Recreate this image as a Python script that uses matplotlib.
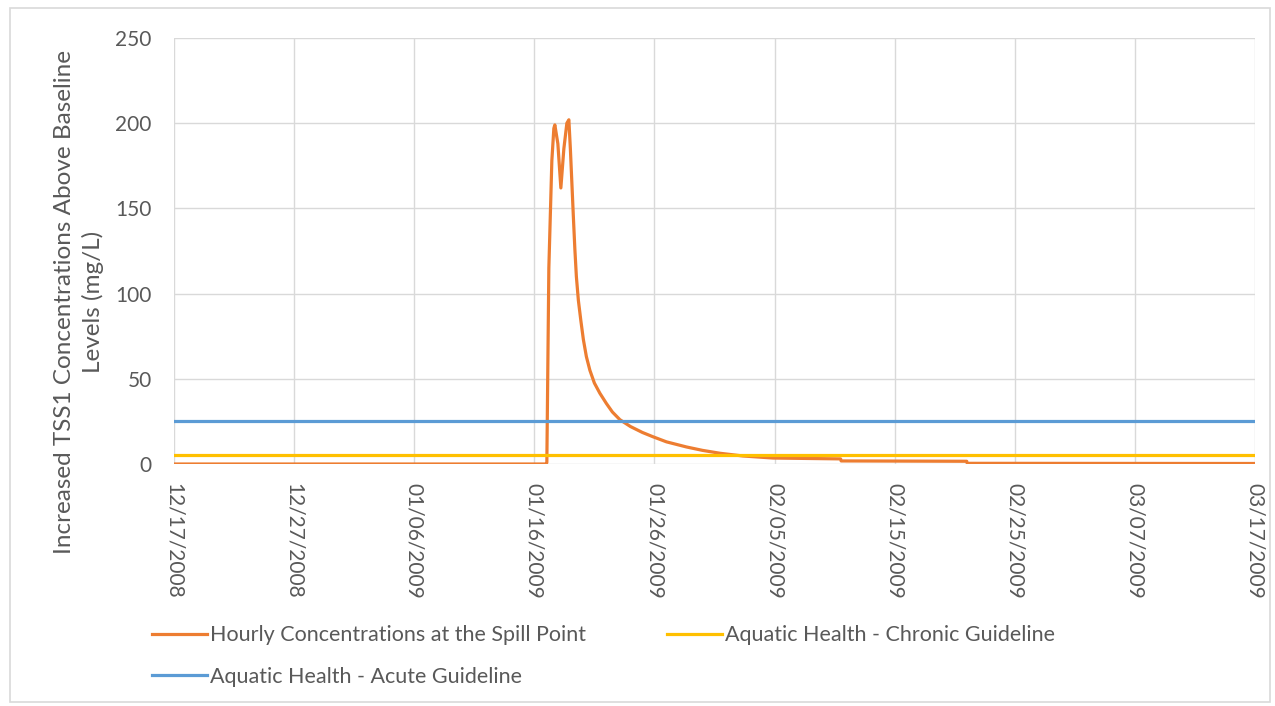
import numpy as np
import pandas as pd
import matplotlib
matplotlib.use("Agg")
import matplotlib.pyplot as plt
import matplotlib.dates as mdates
from matplotlib.patches import Rectangle

# hourly concentration at the spill point
times = [
    "2008-12-17 00:00", "2009-01-17 00:00", "2009-01-17 01:00", "2009-01-17 05:00",
    "2009-01-17 11:00", "2009-01-17 15:00", "2009-01-17 17:00", "2009-01-17 23:00",
    "2009-01-18 05:00", "2009-01-18 11:00", "2009-01-18 17:00", "2009-01-18 21:00",
    "2009-01-19 00:00", "2009-01-19 03:00", "2009-01-19 06:00", "2009-01-19 09:00",
    "2009-01-19 12:00", "2009-01-19 16:00", "2009-01-19 21:00", "2009-01-20 02:00",
    "2009-01-20 08:00", "2009-01-20 15:00", "2009-01-21 00:00", "2009-01-21 11:00",
    "2009-01-22 00:00", "2009-01-22 12:00", "2009-01-23 03:00", "2009-01-24 00:00",
    "2009-01-25 00:00", "2009-01-25 21:00", "2009-01-27 00:00", "2009-01-28 16:00",
    "2009-01-30 00:00", "2009-01-31 11:00", "2009-02-02 09:00", "2009-02-04 21:00",
    "2009-02-10 12:00", "2009-02-10 13:00", "2009-02-21 00:00", "2009-02-21 01:00",
    "2009-03-17 00:00",
]
conc = [
    0.0, 0.0, 1.0, 115,
    178, 197, 199, 188,
    162, 185, 200, 202,
    185, 165, 145, 126,
    110, 96, 84, 73,
    63, 55, 47.5, 41.5,
    35.5, 30.5, 26, 22,
    18.5, 16, 13, 10,
    8, 6.3, 4.7, 3.5,
    3.0, 1.8, 1.6, 0.4,
    0.3,
]
chronic = 5
acute = 25

start = pd.Timestamp("2008-12-17")
end = pd.Timestamp("2009-03-17")
tick_dates = pd.date_range(start, end, freq="10D")

grey = "#595959"
font = "Lato"

fig = plt.figure(figsize=(12.75, 7.06), dpi=100)
ax = fig.add_axes([174 / 1275, 1 - 464 / 706, (1255 - 174) / 1275, (464 - 38) / 706])

t = pd.to_datetime(times)
l1, = ax.plot(t, conc, color="#ED7D31", lw=2.3, label="Hourly Concentrations at the Spill Point")
l2, = ax.plot([start, end], [acute, acute], color="#5B9BD5", lw=2.3, label="Aquatic Health - Acute Guideline")
l3, = ax.plot([start, end], [chronic, chronic], color="#FFC000", lw=2.3, label="Aquatic Health - Chronic Guideline")

ax.set_xlim(start, end)
ax.set_ylim(0, 250)
ax.set_yticks(range(0, 251, 50))
ax.set_xticks(tick_dates)
ax.xaxis.set_major_formatter(mdates.DateFormatter("%m/%d/%Y"))
ax.grid(True, color="#d9d9d9", lw=1)
ax.set_axisbelow(True)
for s in ax.spines.values():
    s.set_visible(False)
ax.tick_params(length=0, colors=grey, labelsize=15)
for lab in ax.get_xticklabels():
    lab.set_rotation(-90)
    lab.set_fontfamily(font)
for lab in ax.get_yticklabels():
    lab.set_fontfamily(font)
ax.tick_params(axis="x", pad=14)
ax.tick_params(axis="y", pad=16)

fig.text(79 / 1275, 1 - 302 / 706,
         "Increased TSS1 Concentrations Above Baseline\nLevels (mg/L)",
         rotation=90, ha="center", va="center", multialignment="center",
         fontsize=17.5, color=grey, family=font, linespacing=1.42)

fig.legend(handles=[l1, l2, l3], ncol=2, loc="upper left",
           bbox_to_anchor=(133 / 1275, 1 - 606 / 706), frameon=False,
           prop={"family": font, "size": 15.5}, labelcolor=grey,
           handlelength=2.55, handletextpad=0.15, columnspacing=3.75, labelspacing=1.0)

fig.patches.append(Rectangle((10 / 1275, 4 / 706), 1260 / 1275, 694 / 706,
                             transform=fig.transFigure, fill=False,
                             edgecolor="#d9d9d9", lw=1.2))

fig.savefig("out.png", dpi=100)
